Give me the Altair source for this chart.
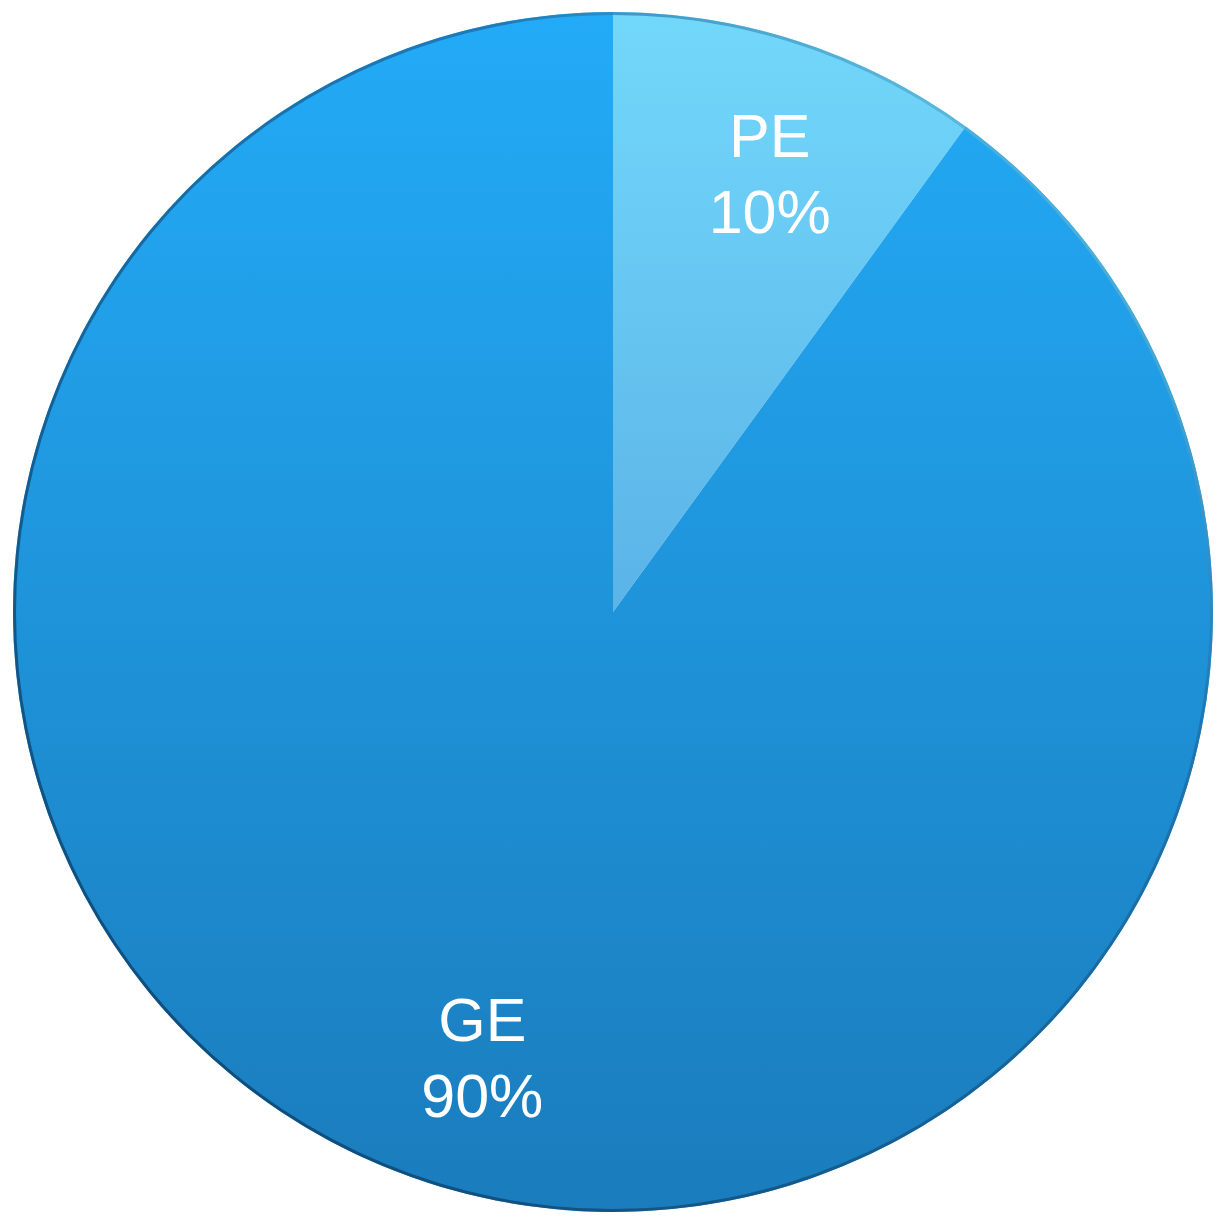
import altair as alt
import pandas as pd

categories = ["PE", "GE"]
shares = [10, 90]
order_idx = [0, 1]

df = pd.DataFrame({"cat": categories, "share": shares, "idx": order_idx})

# plot area starts at page (8, 8)
CX, CY = 605, 604
R = 600
LABEL_R = 465

ge_fill = {"gradient": "linear", "x1": 0, "y1": 0, "x2": 0, "y2": 1,
           "stops": [{"offset": 0, "color": "#23abf7"},
                     {"offset": 1, "color": "#1a7cbc"}]}
pe_fill = {"gradient": "linear", "x1": 0, "y1": 0, "x2": 0, "y2": 1,
           "stops": [{"offset": 0, "color": "#72d8fb"},
                     {"offset": 1, "color": "#5bb3e7"}]}
rim_fill = {"gradient": "linear", "x1": 1, "y1": 0, "x2": 0, "y2": 1,
            "stops": [{"offset": 0, "color": "#8ff2ff"},
                      {"offset": 0.3, "color": "#1d6fa8"},
                      {"offset": 1, "color": "#08345c"}]}

base = alt.Chart(df).encode(
    theta=alt.Theta("share:Q", stack=True),
    order=alt.Order("idx:Q"),
    x=alt.value(CX),
    y=alt.value(CY),
)

pie = base.mark_arc(outerRadius=R, stroke=None).encode(
    fill=alt.condition("datum.cat == 'PE'", alt.value(pe_fill), alt.value(ge_fill))
)

rim = alt.Chart(df).transform_filter("datum.cat == 'GE'").mark_arc(
    theta=0, theta2=6.2832, radius=R, radius2=R - 3, opacity=0.8
).encode(
    x=alt.value(CX), y=alt.value(CY), fill=alt.value(rim_fill)
)

labels = base.transform_calculate(
    label="datum.cat + '\\n' + datum.share + '%'"
).mark_text(
    radius=LABEL_R, fontSize=61, font="Liberation Sans", color="white",
    lineBreak="\n", lineHeight=76, align="center", baseline="middle",
    dx=13, dy=-31
).encode(text="label:N")

chart = alt.layer(pie, rim, labels).properties(
    width=1206, height=1205, padding=0, autosize=alt.AutoSizeParams(type="none"),
    background="white"
).configure_view(stroke=None)

chart.save("out.html", embed_options={"renderer": "svg", "actions": False})
